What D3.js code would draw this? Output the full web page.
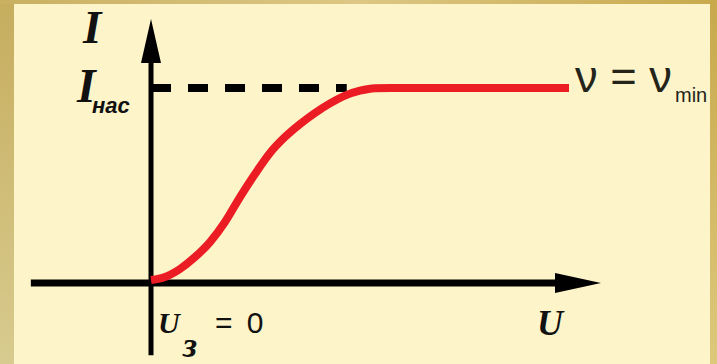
<!DOCTYPE html>
<html>
<head>
<meta charset="utf-8">
<script src="https://cdn.jsdelivr.net/npm/d3@7"></script>
<style>
  body { margin: 0; background: #fdf4c9; }
  svg { display: block; }
</style>
</head>
<body>
<div id="chart"></div>
<script>
// Data (U in arbitrary units, I in units of I_нас)
const curveU = [0, 0.311, 0.644, 0.978, 1.311, 1.644, 1.978, 2.311, 2.644, 2.978, 3.311, 3.644, 3.978, 4.311, 4.644, 4.978, 5.311, 9.289];
const curveI = [0.015, 0.031, 0.072, 0.133, 0.21, 0.313, 0.441, 0.559, 0.667, 0.749, 0.815, 0.872, 0.921, 0.961, 0.986, 0.999, 1.0, 1.0];
const uAxisRange = [-2.67, 10];
const iAxisRange = [-0.37, 1.354];
const iSat = 1;
const dashEndU = 4.35;

function draw() {
  let dimensions = {
    width: 717,
    height: 364,
    panel: { left: 14, top: 4, right: 710 }
  };

  const svg = d3.select('#chart')
    .append('svg')
    .attr('width', dimensions.width)
    .attr('height', dimensions.height)

  // Frame gradients
  const defs = svg.append('defs')
  const gLeft = defs.append('linearGradient')
    .attr('id', 'gLeft').attr('x1', 0).attr('y1', 0).attr('x2', 0).attr('y2', 1)
  gLeft.append('stop').attr('offset', '0%').attr('stop-color', '#c6ad5e')
  gLeft.append('stop').attr('offset', '100%').attr('stop-color', '#d8cb8f')
  const gRight = defs.append('linearGradient')
    .attr('id', 'gRight').attr('x1', 0).attr('y1', 0).attr('x2', 0).attr('y2', 1)
  gRight.append('stop').attr('offset', '0%').attr('stop-color', '#c8a94c')
  gRight.append('stop').attr('offset', '100%').attr('stop-color', '#ddc87c')
  const gTop = defs.append('linearGradient')
    .attr('id', 'gTop').attr('x1', 0).attr('y1', 0).attr('x2', 1).attr('y2', 0)
  gTop.append('stop').attr('offset', '0%').attr('stop-color', '#c9b062')
  gTop.append('stop').attr('offset', '50%').attr('stop-color', '#dcc784')
  gTop.append('stop').attr('offset', '100%').attr('stop-color', '#c8a94c')

  svg.append('rect').attr('width', dimensions.width).attr('height', dimensions.height).attr('fill', '#fdf4c9')
  svg.append('rect').attr('x', 0).attr('y', 0).attr('width', dimensions.panel.left).attr('height', dimensions.height).attr('fill', 'url(#gLeft)')
  svg.append('rect').attr('x', dimensions.panel.right).attr('y', 0).attr('width', dimensions.width - dimensions.panel.right).attr('height', dimensions.height).attr('fill', 'url(#gRight)')
  svg.append('rect').attr('x', 0).attr('y', 0).attr('width', dimensions.width).attr('height', dimensions.panel.top).attr('fill', 'url(#gTop)')

  // Scales
  const xScale = d3.scaleLinear()
    .domain([0, 10])
    .range([151, 601])

  const yScale = d3.scaleLinear()
    .domain([0, 1])
    .range([283, 88])

  const x0 = xScale(0)
  const y0 = yScale(0)

  // Axes
  const xTip = xScale(uAxisRange[1])
  const yTip = yScale(iAxisRange[1])

  svg.append('line')
    .attr('x1', xScale(uAxisRange[0])).attr('x2', xTip - 40)
    .attr('y1', y0).attr('y2', y0)
    .attr('stroke', '#000').attr('stroke-width', 7)

  svg.append('line')
    .attr('x1', x0).attr('x2', x0)
    .attr('y1', yScale(iAxisRange[0])).attr('y2', yTip + 40)
    .attr('stroke', '#000').attr('stroke-width', 5)

  svg.append('path')
    .attr('d', `M${xTip},${y0} L${xTip - 46},${y0 - 10} L${xTip - 46},${y0 + 10} Z`)
    .attr('fill', '#000')

  svg.append('path')
    .attr('d', `M${x0},${yTip} L${x0 + 10},${yTip + 44} L${x0 - 10},${yTip + 44} Z`)
    .attr('fill', '#000')

  // Saturation dashed line
  svg.append('line')
    .attr('x1', x0).attr('x2', xScale(dashEndU))
    .attr('y1', yScale(iSat)).attr('y2', yScale(iSat))
    .attr('stroke', '#000').attr('stroke-width', 8)
    .attr('stroke-dasharray', '20 17')

  // Curve
  const points = curveU.map((u, i) => [u, curveI[i]])
  const lineGenerator = d3.line()
    .x(d => xScale(d[0]))
    .y(d => yScale(d[1]))
    .curve(d3.curveMonotoneX)

  svg.append('path')
    .datum(points)
    .attr('d', lineGenerator)
    .attr('fill', 'none')
    .attr('stroke', '#ec1c24')
    .attr('stroke-width', 8)

  // Labels
  const serif = '"Liberation Serif", "Times New Roman", serif'
  const sans = '"Liberation Sans", Arial, sans-serif'

  svg.append('text')
    .attr('x', 83).attr('y', 43)
    .attr('font-family', serif).attr('font-weight', 'bold').attr('font-style', 'italic')
    .attr('font-size', '47px').attr('fill', '#111')
    .text('I')

  svg.append('text')
    .attr('x', 77).attr('y', 102)
    .attr('font-family', serif).attr('font-weight', 'bold').attr('font-style', 'italic')
    .attr('font-size', '48px').attr('fill', '#111')
    .text('I')

  svg.append('text')
    .attr('x', 92).attr('y', 113)
    .attr('font-family', sans).attr('font-weight', 'bold').attr('font-style', 'italic')
    .attr('font-size', '22px').attr('fill', '#111')
    .text('нас')

  svg.append('text')
    .attr('x', 575).attr('y', 92)
    .attr('font-family', sans)
    .attr('font-size', '44px').attr('fill', '#24241a')
    .attr('textLength', 97).attr('lengthAdjust', 'spacingAndGlyphs')
    .text('ν = ν')

  svg.append('text')
    .attr('x', 675).attr('y', 102)
    .attr('font-family', sans)
    .attr('font-size', '20px').attr('fill', '#24241a')
    .text('min')

  svg.append('text')
    .attr('x', 158).attr('y', 333)
    .attr('font-family', serif).attr('font-weight', 'bold').attr('font-style', 'italic')
    .attr('font-size', '30px').attr('fill', '#111')
    .text('U')

  svg.append('text')
    .attr('x', 183).attr('y', 357)
    .attr('font-family', serif).attr('font-weight', 'bold').attr('font-style', 'italic')
    .attr('font-size', '36px').attr('fill', '#111')
    .text('з')

  svg.append('text')
    .attr('x', 215).attr('y', 333)
    .attr('font-family', sans)
    .attr('font-size', '30px').attr('fill', '#111')
    .attr('letter-spacing', '3px')
    .text('= 0')

  svg.append('text')
    .attr('x', 537).attr('y', 335)
    .attr('font-family', serif).attr('font-weight', 'bold').attr('font-style', 'italic')
    .attr('font-size', '36px').attr('fill', '#111')
    .text('U')
}

draw()
</script>
</body>
</html>
